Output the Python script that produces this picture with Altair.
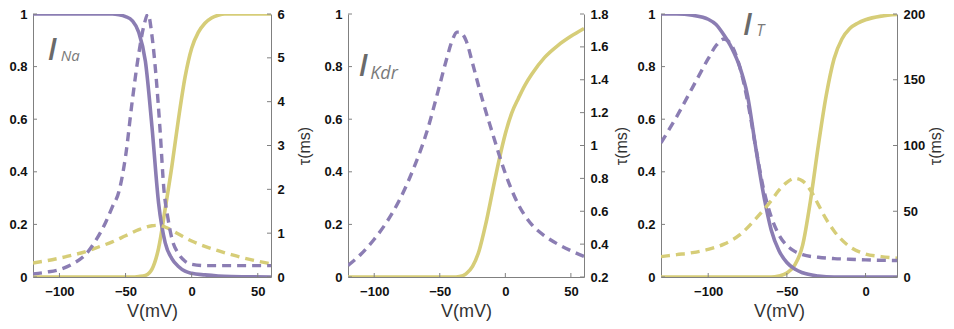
import altair as alt
import pandas as pd

PURPLE = "#8b7db3"
YELLOW = "#d6cd78"
AXIS_GRAY = "#808080"

# ---------------- Panel 1: I_Na ----------------
na_x_domain = [-120, 60]
na_x_ticks = [-100, -50, 0, 50]
na_h_V = [-120, -60, -55, -50, -45, -40, -35, -30, -25, -20, -15, -10, -5, 0, 10, 20, 30, 60]
na_h = [1.0, 1.0, 0.997, 0.99, 0.975, 0.93, 0.82, 0.57, 0.28, 0.13, 0.07, 0.04, 0.022, 0.014, 0.008, 0.004, 0.002, 0.0]
na_m_V = [-120, -45, -40, -35, -30, -25, -20, -15, -10, -5, 0, 5, 10, 15, 20, 25, 60]
na_m = [0.0, 0.0, 0.002, 0.006, 0.03, 0.11, 0.26, 0.42, 0.6, 0.76, 0.87, 0.93, 0.965, 0.985, 0.995, 1.0, 1.0]
na_tauh_V = [-120, -110, -100, -90, -80, -73, -65, -60, -55, -50, -45, -40, -36, -33, -30, -27, -24, -21, -18, -15, -10, -5, 0, 10, 60]
na_tauh = [0.07, 0.11, 0.17, 0.3, 0.52, 0.81, 1.25, 1.6, 1.95, 2.75, 4.0, 5.1, 5.75, 6.0, 5.5, 4.6, 3.4, 2.0, 1.35, 0.88, 0.53, 0.36, 0.29, 0.26, 0.26]
na_taum_V = [-120, -110, -100, -90, -80, -70, -60, -50, -40, -30, -25, -20, -10, 0, 10, 20, 30, 40, 50, 60]
na_taum = [0.32, 0.37, 0.43, 0.5, 0.58, 0.69, 0.8, 0.94, 1.08, 1.17, 1.18, 1.14, 0.98, 0.82, 0.7, 0.6, 0.51, 0.43, 0.36, 0.3]
na_tau_domain = [0, 6]
na_tau_ticks = [0, 1, 2, 3, 4, 5, 6]

# ---------------- Panel 2: I_Kdr ----------------
kdr_x_domain = [-120, 60]
kdr_x_ticks = [-100, -50, 0, 50]
kdr_n_V = [-120, -40, -35, -30, -25, -20, -15, -10, -5, 0, 5, 10, 15, 20, 30, 40, 50, 60]
kdr_n = [0.0, 0.0, 0.002, 0.012, 0.04, 0.1, 0.2, 0.32, 0.44, 0.545, 0.625, 0.68, 0.73, 0.77, 0.835, 0.88, 0.915, 0.945]
kdr_taun_V = [-120, -110, -100, -90, -80, -70, -60, -50, -45, -40, -37, -35, -30, -25, -20, -15, -10, -5, 0, 10, 20, 30, 40, 50, 60]
kdr_taun = [0.27, 0.34, 0.43, 0.54, 0.68, 0.86, 1.08, 1.37, 1.52, 1.65, 1.69, 1.69, 1.64, 1.5, 1.35, 1.21, 1.08, 0.95, 0.83, 0.64, 0.52, 0.45, 0.40, 0.36, 0.325]
kdr_tau_domain = [0.2, 1.8]
kdr_tau_ticks = [0.2, 0.4, 0.6, 0.8, 1, 1.2, 1.4, 1.6, 1.8]

# ---------------- Panel 3: I_T ----------------
t_x_domain = [-130, 20]
t_x_ticks = [-100, -50, 0]
t_h_V = [-130, -120, -110, -100, -95, -90, -85, -80, -75, -70, -65, -60, -55, -50, -45, -40, -30, -20, 20]
t_h = [1.0, 1.0, 0.995, 0.98, 0.96, 0.92, 0.87, 0.8, 0.69, 0.5, 0.32, 0.18, 0.1, 0.055, 0.03, 0.016, 0.004, 0.0, 0.0]
t_m_V = [-130, -60, -55, -50, -45, -40, -35, -30, -25, -20, -15, -10, -5, 0, 10, 20]
t_m = [0.0, 0.0, 0.004, 0.015, 0.045, 0.12, 0.29, 0.5, 0.69, 0.83, 0.905, 0.945, 0.965, 0.978, 0.992, 0.998]
t_tauh_V = [-130, -120, -110, -100, -95, -90, -85, -80, -75, -70, -65, -60, -55, -50, -45, -40, -30, -20, -10, 0, 20]
t_tauh = [102, 122, 144, 166, 176, 181, 176, 160, 134, 100, 68, 46, 32, 24, 19.5, 17, 15, 14, 13.5, 13, 12.5]
t_taum_V = [-130, -120, -110, -100, -90, -80, -70, -60, -55, -50, -45, -40, -35, -30, -25, -20, -10, 0, 10, 20]
t_taum = [15.5, 17, 18.5, 21, 25, 32, 44, 58, 66, 72, 75, 73, 66, 55, 44, 35, 23, 17.5, 15.5, 14.3]
t_tau_domain = [0, 200]
t_tau_ticks = [0, 50, 100, 150, 200]

left_ticks = [0, 0.2, 0.4, 0.6, 0.8, 1]

# Labels: (main, subscript, I-centre V, I-centre y, sub-left V, sub-baseline y, I size, sub size)
labels = {
    "na": ("I", "Na", -105.5, 0.86, -99, 0.82, 30, 15),
    "kdr": ("I", "Kdr", -108.5, 0.80, -103, 0.753, 30, 18),
    "t": ("I", "T", -75, 0.955, -69.4, 0.916, 30, 16),
}

H = 263
LABEL_FONT = "Liberation Sans"


def panel(xdom, xticks, left_lines, right_lines, rdom, rticks, lab, width, rtitle_pad):
    xaxis = alt.Axis(values=xticks, format="d", title="V(mV)", ticks=False,
                     domainColor=AXIS_GRAY, labelFont=LABEL_FONT, labelFontWeight="bold",
                     labelFontSize=13, labelColor="#111", labelPadding=8, labelFlush=False,
                     titleFont=LABEL_FONT, titleFontWeight="normal", titleFontSize=18,
                     titleColor="#333", titlePadding=4, grid=False)
    laxis = alt.Axis(values=left_ticks, format="~r", title=None, ticks=False, orient="left",
                     domainColor=AXIS_GRAY, labelFont=LABEL_FONT, labelFontWeight="bold",
                     labelFontSize=13, labelColor="#111", labelPadding=6, labelFlush=False, grid=False)
    raxis = alt.Axis(values=rticks, format="~r", title="τ(ms)", ticks=False, orient="right",
                     domainColor=AXIS_GRAY, labelFont=LABEL_FONT, labelFontWeight="bold",
                     labelFontSize=13, labelColor="#111", labelPadding=6, labelFlush=False,
                     titleFont=LABEL_FONT, titleFontWeight="normal", titleFontSize=16,
                     titleColor="#333", titleAngle=270, titleBaseline="top",
                     titlePadding=rtitle_pad, grid=False)
    xs = alt.Scale(domain=xdom, nice=False, zero=False)
    ls = alt.Scale(domain=[0, 1], nice=False, zero=False)
    rs = alt.Scale(domain=rdom, nice=False, zero=False)

    def X():
        return alt.X("V:Q", scale=xs, axis=xaxis)

    def YL():
        return alt.Y("y:Q", scale=ls, axis=laxis)

    def YR():
        return alt.Y("tau:Q", scale=rs, axis=raxis)

    left_layers = []
    for V, vals, color in left_lines:
        df = pd.DataFrame({"V": V, "y": vals})
        left_layers.append(alt.Chart(df).mark_line(
            color=color, strokeWidth=3.6, interpolate="monotone", clip=True).encode(x=X(), y=YL()))
    # inward ticks on left and bottom axes
    lt = alt.Chart(pd.DataFrame({"y": left_ticks})).mark_rule(color=AXIS_GRAY, strokeWidth=1).encode(
        y=YL(), x=alt.value(0), x2=alt.value(4))
    bt = alt.Chart(pd.DataFrame({"V": xticks})).mark_rule(color=AXIS_GRAY, strokeWidth=1).encode(
        x=X(), y=alt.value(H - 4), y2=alt.value(H))
    main, sub, ix, iy, sx, sy, isz, ssz = lab
    t1 = alt.Chart(pd.DataFrame({"V": [ix], "y": [iy], "t": [main]})).mark_text(
        font="Open Sans", fontStyle="italic", fontWeight=600, fontSize=isz, color="#6a6a6a",
        align="center", baseline="middle").encode(x=X(), y=YL(), text="t:N")
    t2 = alt.Chart(pd.DataFrame({"V": [sx], "y": [sy], "t": [sub]})).mark_text(
        font="Open Sans", fontStyle="italic", fontSize=ssz, color="#7a7a7a",
        align="left", baseline="alphabetic").encode(x=X(), y=YL(), text="t:N")
    left = alt.layer(*left_layers, lt, bt, t1, t2)

    right_layers = []
    for V, vals, color in right_lines:
        df = pd.DataFrame({"V": V, "tau": vals})
        right_layers.append(alt.Chart(df).mark_line(
            color=color, strokeWidth=3.4, strokeDash=[9, 6], interpolate="monotone",
            clip=True).encode(x=X(), y=YR()))
    rt = alt.Chart(pd.DataFrame({"tau": rticks})).mark_rule(color=AXIS_GRAY, strokeWidth=1).encode(
        y=YR(), x=alt.value(width - 4), x2=alt.value(width))
    right = alt.layer(*right_layers, rt)

    return alt.layer(left, right).resolve_scale(y="independent").properties(width=width, height=H)


p1 = panel(na_x_domain, na_x_ticks,
           [(na_m_V, na_m, YELLOW), (na_h_V, na_h, PURPLE)],
           [(na_taum_V, na_taum, YELLOW), (na_tauh_V, na_tauh, PURPLE)],
           na_tau_domain, na_tau_ticks, labels["na"], 238, 12)
p2 = panel(kdr_x_domain, kdr_x_ticks,
           [(kdr_n_V, kdr_n, YELLOW)],
           [(kdr_taun_V, kdr_taun, PURPLE)],
           kdr_tau_domain, kdr_tau_ticks, labels["kdr"], 236, 5)
p3 = panel(t_x_domain, t_x_ticks,
           [(t_m_V, t_m, YELLOW), (t_h_V, t_h, PURPLE)],
           [(t_taum_V, t_taum, YELLOW), (t_tauh_V, t_tauh, PURPLE)],
           t_tau_domain, t_tau_ticks, labels["t"], 236, 3)

chart = alt.hconcat(p1, p2, p3, spacing=77, bounds="flush").properties(
    padding={"left": 8, "top": 8, "right": 5, "bottom": 5},
    background="white",
).configure_view(stroke=None)

chart.save("out.html", embed_options={"renderer": "svg", "actions": False})
